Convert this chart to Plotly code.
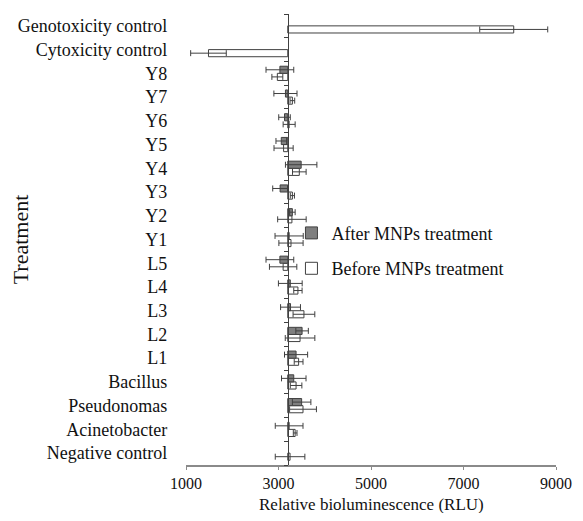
import plotly.graph_objects as go

# categories listed bottom -> top
categories = ["Negative control", "Acinetobacter", "Pseudonomas", "Bacillus",
              "L1", "L2", "L3", "L4", "L5",
              "Y1", "Y2", "Y3", "Y4", "Y5", "Y6", "Y7", "Y8",
              "Cytoxicity control", "Genotoxicity control"]

after_vals = [None, 3230, 3500, 3330, 3380, 3510, 3260, 3255, 3030,
              3230, 3300, 3035, 3490, 3060, 3130, 3150, 3030, None, None]
after_err = [0, 300, 200, 265, 250, 135, 215, 257, 300,
             305, 60, 160, 340, 115, 125, 250, 300, 0, 0]

before_vals = [3250, 3360, 3530, 3380, 3435, 3466, 3550, 3420, 3100,
               3270, 3290, 3300, 3450, 3110, 3230, 3300, 2975, 1486, 8086]
before_err = [320, 40, 290, 125, 95, 320, 235, 90, 296,
              262, 308, 45, 147, 207, 130, 50, 118, 385, 735]

BASE = 3200
XMIN, XMAX = 1000, 9000
x_ticks = [1000, 3000, 5000, 7000, 9000]

FONT = "Liberation Serif, Times New Roman, serif"
LINE = "#404040"


def rel(vals):
    return [None if v is None else v - BASE for v in vals]


fig = go.Figure()
fig.add_trace(go.Bar(
    y=categories, x=rel(before_vals), base=BASE, orientation="h",
    name="Before MNPs treatment", legendgroup="b", legendrank=2,
    marker=dict(color="white", line=dict(color=LINE, width=1)),
    error_x=dict(type="data", array=before_err, visible=True,
                 color=LINE, thickness=1, width=3),
))
fig.add_trace(go.Bar(
    y=categories, x=rel(after_vals), base=BASE, orientation="h",
    name="After MNPs treatment", legendgroup="a", legendrank=1,
    marker=dict(color="#7f7f7f", line=dict(color=LINE, width=1)),
    error_x=dict(type="data", array=after_err, visible=True,
                 color=LINE, thickness=1, width=3),
))

ypos = (BASE - XMIN) / (XMAX - XMIN)

fig.update_layout(
    width=575, height=505,
    margin=dict(l=178, r=27, t=6, b=48),
    paper_bgcolor="white", plot_bgcolor="white",
    font=dict(family=FONT, size=18, color="#111"),
    barmode="group", bargap=0.4, bargroupgap=0,
    showlegend=True,
    legend=dict(x=0.285, y=0.555, xanchor="left", yanchor="top",
                traceorder="grouped", tracegroupgap=9,
                bgcolor="rgba(0,0,0,0)", font=dict(family=FONT, size=18)),
    xaxis=dict(range=[XMIN, XMAX], tickvals=x_ticks, showgrid=False,
               zeroline=False, showline=True, linecolor="#8a8a8a", linewidth=2,
               ticks="outside", ticklen=3, tickcolor="#8a8a8a",
               tickfont=dict(family=FONT, size=16, color="#111"),
               automargin=False),
    yaxis=dict(type="category", categoryorder="array", categoryarray=categories,
               anchor="free", position=ypos, showgrid=False, zeroline=False,
               showline=True, linecolor=LINE, linewidth=1,
               ticks="outside", ticklen=4, tickcolor=LINE, tickson="boundaries",
               ticklabelstandoff=117, automargin=False,
               title=dict(text="Treatment")),
    annotations=[dict(text="Relative bioluminescence (RLU)", xref="paper", yref="paper",
                      x=0.5, y=0, xanchor="center", yanchor="middle", yshift=-39,
                      showarrow=False, font=dict(family=FONT, size=17, color="#111"))],
)

fig.write_html("out.html")
